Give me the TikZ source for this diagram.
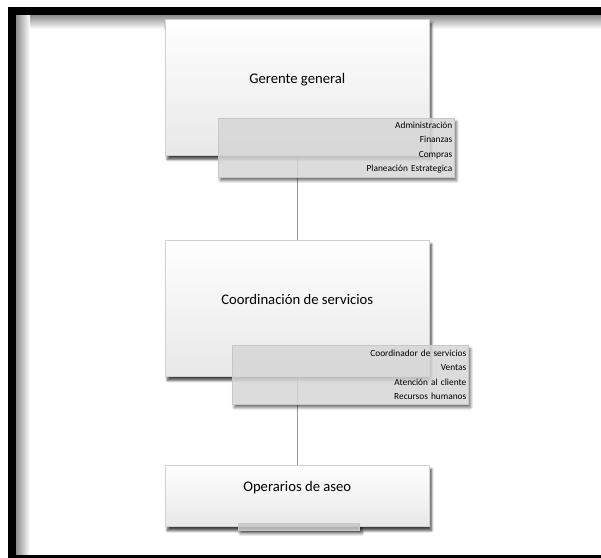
\documentclass[tikz,border=0pt]{standalone}
\usepackage{fontspec}
\setmainfont{Carlito}
\usetikzlibrary{positioning, backgrounds, shadows.blur}
\tikzset{cargo/.style={draw=black!18, anchor=north west, top color=white, middle color=white, bottom color=black!9, minimum width=198pt, minimum height=102pt, inner sep=0pt, text height=8pt, text depth=14pt, font=\fontsize{11}{13}\selectfont, blur shadow={shadow xshift=1.6pt, shadow yshift=-3pt, shadow opacity=75, shadow blur steps=6}}}
\tikzset{areas/.style={draw=black!22, anchor=north west, fill=black!16, fill opacity=0.85, text opacity=1, minimum width=177pt, minimum height=44pt, text width=174pt, inner xsep=1.5pt, inner ysep=0pt, align=right, font=\fontsize{7}{10.9}\selectfont}}
\tikzset{sombra/.style={blur shadow={shadow xshift=1.6pt, shadow yshift=-2.6pt, shadow opacity=55, shadow blur steps=6}}}
\tikzset{linea/.style={draw=black!40, line width=0.6pt}}

\begin{document}
\begin{tikzpicture}[x=0.75pt, y=-0.75pt]
	\useasboundingbox (0,0) rectangle (601,558);
	% marco
	\shade[left color=black!45, right color=white] (16,15) rectangle (30,555);
	\shade[top color=black!45, bottom color=white] (30,15) rectangle (601,29);
	\fill[black] (8,7) rectangle (601,15);
	\fill[black] (8,7) rectangle (16,558);
	\fill[black] (8,555) rectangle (601,558);
	
	\node[cargo] (G) at (165,19) {Gerente general};
	\node[areas] (A1) at (218,118) {Administración\\Finanzas\\Compras\\Planeación Estrategica};
	
	\node[cargo] (C) at (165,240) {Coordinación de servicios};
	\node[areas] (A2) at (232,345) {Coordinador de servicios\\Ventas\\Atención al cliente\\Recursos humanos};
	
	\node[cargo, minimum height=46pt] (O) at (165,465) {Operarios de aseo};
	\node[areas, minimum width=91pt, minimum height=5pt, text width=0pt, fill=black!22] (A3) at (238,523) {};
	
	\begin{scope}[on background layer]
		\draw[linea] (G.south) -- (C.north);
		\draw[linea] (C.south) -- (O.north);
		% sombras fuera de las areas
		\foreach \a in {A1,A2,A3}{
			\begin{scope}[even odd rule]
				\clip (0,0) rectangle (601,558) (\a.north west) rectangle (\a.south east);
				\path[sombra] (\a.north west) rectangle (\a.south east);
			\end{scope}
		}
	\end{scope}
\end{tikzpicture}
\end{document}
